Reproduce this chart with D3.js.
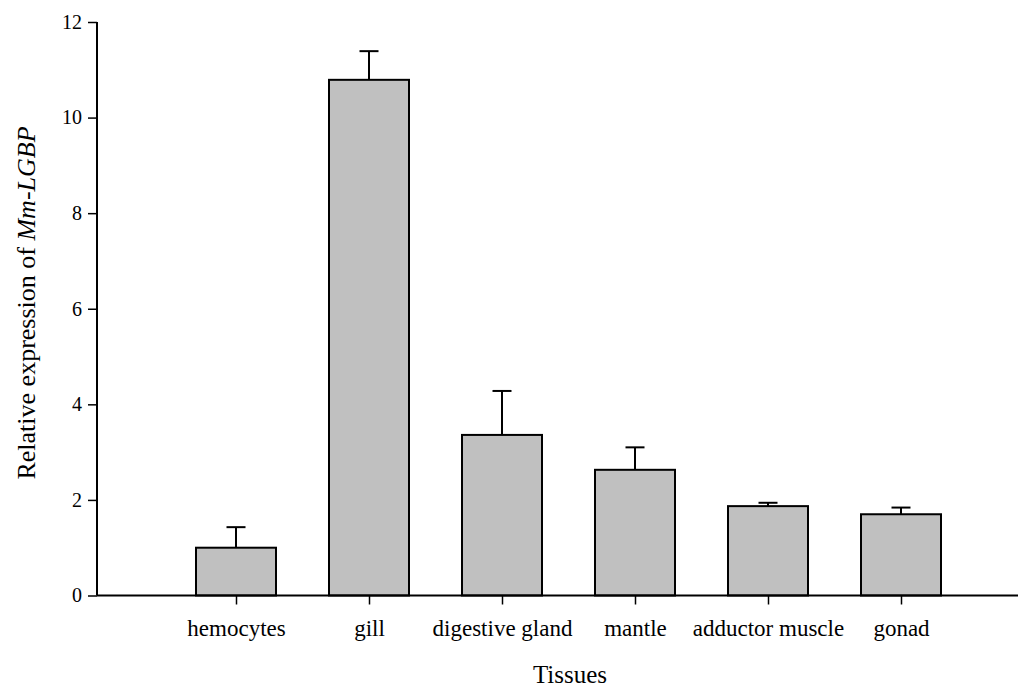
<!DOCTYPE html>
<html><head><meta charset="utf-8">
<script src="https://cdn.jsdelivr.net/npm/d3@7"></script>
<style>body{margin:0;background:#fff;} svg{display:block;} text{font-family:"Liberation Serif","Times New Roman",serif;fill:#000;}</style>
</head><body>
<svg id="c" width="1023" height="687"></svg>
<script>
const categories = ["hemocytes","gill","digestive gland","mantle","adductor muscle","gonad"];
const values = [1.0, 10.79, 3.36, 2.63, 1.87, 1.70];
const errors = [0.43, 0.60, 0.92, 0.47, 0.07, 0.14];
const yTicks = [0,2,4,6,8,10,12];

const svg = d3.select("#c");
const x0 = 97, x1 = 1018, yTop = 22, yBot = 595.5;
const y = d3.scaleLinear().domain([0,12]).range([yBot, yTop]);
const x = d3.scalePoint().domain(categories).range([236, 901]);
const bw = 80, cap = 19;

// bars
svg.selectAll("rect.bar").data(categories).enter().append("rect")
  .attr("x", d => x(d) - bw/2).attr("width", bw)
  .attr("y", (d,i) => y(values[i])).attr("height", (d,i) => y(0) - y(values[i]))
  .attr("fill", "#c0c0c0").attr("stroke", "#000").attr("stroke-width", 2);

// error bars
svg.selectAll("line.err").data(categories).enter().append("line")
  .attr("x1", d => x(d)).attr("x2", d => x(d))
  .attr("y1", (d,i) => y(values[i])).attr("y2", (d,i) => y(values[i] + errors[i]))
  .attr("stroke", "#000").attr("stroke-width", 2);
svg.selectAll("line.cap").data(categories).enter().append("line")
  .attr("x1", d => x(d) - cap/2).attr("x2", d => x(d) + cap/2)
  .attr("y1", (d,i) => y(values[i] + errors[i])).attr("y2", (d,i) => y(values[i] + errors[i]))
  .attr("stroke", "#000").attr("stroke-width", 2);

// y axis
const ya = svg.append("g").attr("transform", `translate(${x0},0)`)
  .call(d3.axisLeft(y).tickValues(yTicks).tickSize(9).tickPadding(6).tickFormat(d3.format("d")));
ya.attr("font-family", null);
ya.select(".domain").attr("stroke-width", 2).attr("d", `M-0,${yTop}V${yBot}`);
ya.selectAll(".tick line").attr("stroke-width", 1.5);
ya.selectAll(".tick text").style("font-size", "20px").style("font-family", "'Liberation Serif', serif");

// x axis
const xa = svg.append("g").attr("transform", `translate(0,${yBot})`)
  .call(d3.axisBottom(x).tickSize(9).tickPadding(15));
xa.attr("font-family", null);
xa.select(".domain").attr("stroke-width", 2).attr("d", `M${x0},0H${x1}`);
xa.selectAll(".tick line").attr("stroke-width", 1.5);
xa.selectAll(".tick text").style("font-size", "23px").style("font-family", "'Liberation Serif', serif");

// axis titles
svg.append("text").attr("x", 570).attr("y", 683).attr("text-anchor", "middle")
  .style("font-size", "25px").text("Tissues");
const yl = svg.append("text").attr("transform", "translate(35,303) rotate(-90)")
  .attr("text-anchor", "middle").style("font-size", "26px");
yl.append("tspan").text("Relative expression of ");
yl.append("tspan").attr("font-style", "italic").text("Mm-LGBP");
</script>
</body></html>
